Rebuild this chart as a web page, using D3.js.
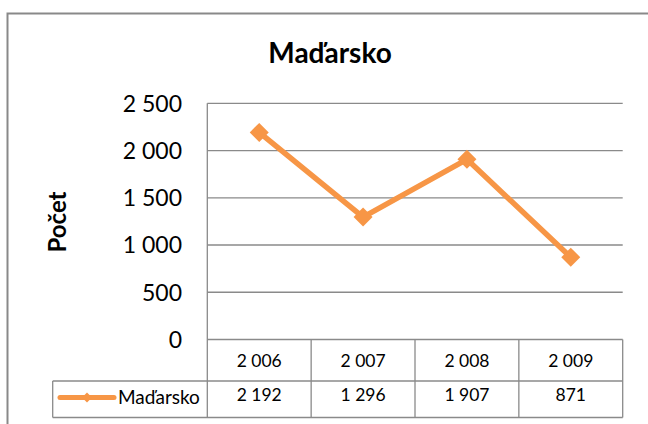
<!DOCTYPE html>
<html>
<head>
<meta charset="utf-8">
<script src="https://cdn.jsdelivr.net/npm/d3@7"></script>
<style>
  html, body { margin: 0; padding: 0; background: #fff; }
  svg { display: block; font-family: Lato, "Open Sans", sans-serif; }
</style>
</head>
<body>
<svg id="chart" width="648" height="424"></svg>
<script>
// Data
const seriesName = "Maďarsko";
const years = [2006, 2007, 2008, 2009];
const counts = [2192, 1296, 1907, 871];
const yTicks = [0, 500, 1000, 1500, 2000, 2500];
const chartTitle = "Maďarsko";
const yTitle = "Počet";

const svg = d3.select("#chart");
const orange = "#F79646";
const gridColor = "#8a8a8a";

// Space as the thousands separator
const locale = d3.formatLocale({ decimal: ",", thousands: " ", grouping: [3], currency: ["", ""] });
const fmt = locale.format(",d");

// Layout
const plot = { left: 207.3, right: 622.7, top: 103.3, bottom: 339.5 };
const table = { legendLeft: 52.7, headerBottom: 381, bottom: 417.5 };

const x = d3.scaleBand().domain(years).range([plot.left, plot.right]).padding(0);
const y = d3.scaleLinear().domain([0, 2500]).range([plot.bottom, plot.top]);

// Outer chart frame
svg.append("rect")
  .attr("x", 7.5).attr("y", 13.5)
  .attr("width", 700).attr("height", 500)
  .attr("fill", "#fff").attr("stroke", "#898989").attr("stroke-width", 2);

// Title
svg.append("text")
  .attr("x", 330).attr("y", 63)
  .attr("text-anchor", "middle")
  .attr("font-weight", "bold").attr("font-size", 28)
  .attr("fill", "#000")
  .text(chartTitle);

// Y axis title
svg.append("text")
  .attr("transform", "translate(66,222) rotate(-90)")
  .attr("text-anchor", "middle")
  .attr("font-weight", "bold").attr("font-size", 24)
  .attr("fill", "#000")
  .text(yTitle);

// Gridlines
svg.append("g").selectAll("line").data(yTicks).join("line")
  .attr("x1", plot.left).attr("x2", plot.right)
  .attr("y1", d => y(d)).attr("y2", d => y(d))
  .attr("stroke", gridColor).attr("stroke-width", 1.3);

// Y tick labels
svg.append("g").selectAll("text").data(yTicks).join("text")
  .attr("x", 182).attr("y", d => y(d))
  .attr("dy", "0.36em")
  .attr("text-anchor", "end")
  .attr("font-size", 23).attr("fill", "#000")
  .text(d => fmt(d));

// Data table grid
const tableLines = svg.append("g")
  .attr("stroke", gridColor).attr("stroke-width", 1.3).attr("fill", "none");
// vertical axis line extending into the table
tableLines.append("line")
  .attr("x1", plot.left).attr("x2", plot.left)
  .attr("y1", plot.top).attr("y2", table.bottom);
// category dividers
tableLines.selectAll("line.div").data(years).join("line").attr("class", "div")
  .attr("x1", d => x(d) + x.bandwidth()).attr("x2", d => x(d) + x.bandwidth())
  .attr("y1", plot.bottom).attr("y2", table.bottom);
// horizontal rules
tableLines.append("line")
  .attr("x1", table.legendLeft).attr("x2", plot.right)
  .attr("y1", table.headerBottom).attr("y2", table.headerBottom);
tableLines.append("line")
  .attr("x1", table.legendLeft).attr("x2", plot.right)
  .attr("y1", table.bottom).attr("y2", table.bottom);
// legend cell left edge
tableLines.append("line")
  .attr("x1", table.legendLeft).attr("x2", table.legendLeft)
  .attr("y1", table.headerBottom).attr("y2", table.bottom);

// Category labels
svg.append("g").selectAll("text").data(years).join("text")
  .attr("x", d => x(d) + x.bandwidth() / 2).attr("y", 367)
  .attr("text-anchor", "middle")
  .attr("font-size", 17.5).attr("fill", "#000")
  .text(d => fmt(d));

// Value row
svg.append("g").selectAll("text").data(counts).join("text")
  .attr("x", (d, i) => x(years[i]) + x.bandwidth() / 2).attr("y", 400.5)
  .attr("text-anchor", "middle")
  .attr("font-size", 17.5).attr("fill", "#000")
  .text(d => fmt(d));

// Legend key
const legendY = 397.5;
svg.append("line")
  .attr("x1", 60).attr("x2", 114).attr("y1", legendY).attr("y2", legendY)
  .attr("stroke", orange).attr("stroke-width", 5).attr("stroke-linecap", "round");
svg.append("path")
  .attr("transform", `translate(87,${legendY})`)
  .attr("d", "M0,-5L5,0L0,5L-5,0Z")
  .attr("fill", orange);
svg.append("text")
  .attr("x", 118).attr("y", 403.5)
  .attr("font-size", 19).attr("fill", "#000")
  .text(seriesName);

// Series line
const points = years.map((yr, i) => [x(yr) + x.bandwidth() / 2, y(counts[i])]);
svg.append("path")
  .attr("d", d3.line()(points))
  .attr("fill", "none").attr("stroke", orange)
  .attr("stroke-width", 5.5).attr("stroke-linejoin", "round");

// Diamond markers
svg.append("g").selectAll("path").data(points).join("path")
  .attr("transform", d => `translate(${d[0]},${d[1]})`)
  .attr("d", "M0,-9.5L9.5,0L0,9.5L-9.5,0Z")
  .attr("fill", orange);
</script>
</body>
</html>
